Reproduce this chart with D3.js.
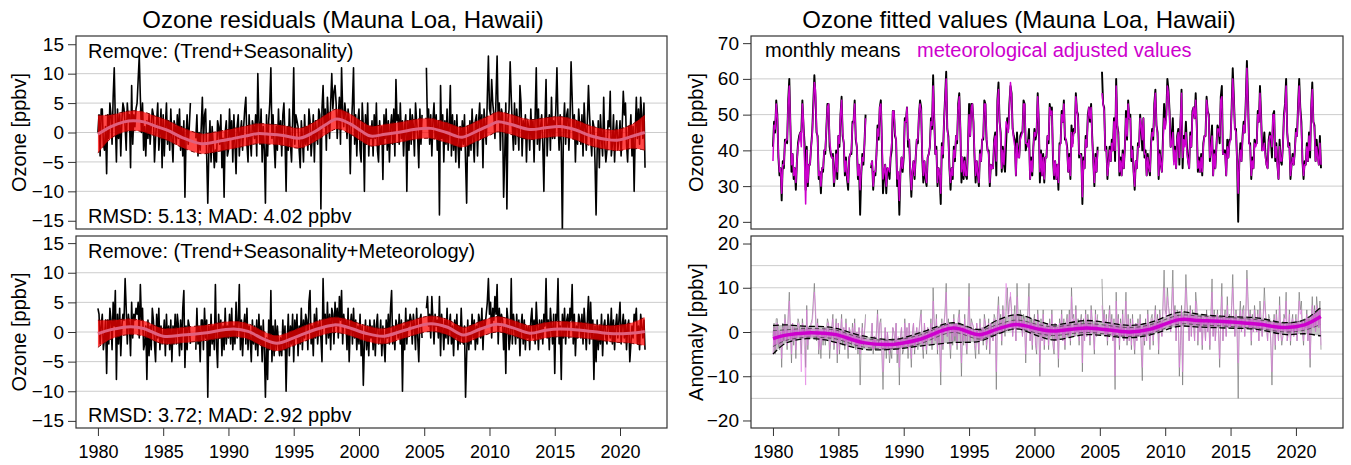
<!DOCTYPE html>
<html>
<head>
<meta charset="utf-8">
<script src="https://cdn.jsdelivr.net/npm/d3@7"></script>
<style>
  body { margin: 0; background: #fff; }
  text { font-family: "Liberation Sans", Arial, sans-serif; }
</style>
</head>
<body>
<svg id="vis" width="1351" height="465"></svg>
<script>
// monthly values Jan 1980 .. Dec 2021, one row per year, null = missing month
const startYear = 1980

// residuals after removing trend + seasonality (ppbv)
const resid1 = [
  [0,3,-4,4,4,-2,-3,1,-7,3,-1,5],
  [3,-2,6,11,2,-5,4,-1,3,-4,2,5],
  [4,1,-3,5,2,3,-6,8,-2,3,1,4],
  [5,9,13,6,0,5,-3,1,-4,2,-1,3],
  [-2,1,4,3,-5,-1,2,5,-3,0,4,-6],
  [3,-4,1,5,-2,2,-3,4,-1,-5,2,1],
  [-2,3,-1,4,-3,1,-4,2,-11,-1,3,-2],
  [1,5,null,null,null,null,-1,3,-4,0,-3,1],
  [6,-2,3,4,-4,-12,-3,2,-5,1,-2,-6],
  [-3,-5,2,1,-2,3,-6,-1,-11,0,2,-4],
  [-3,4,-1,2,-5,3,-2,-7,1,3,-4,0],
  [2,-3,1,4,6,-2,-5,3,-1,-4,2,1],
  [-1,3,-4,10,2,-2,4,-5,1,-3,-12,3],
  [-4,2,5,11,-1,3,-2,-6,1,-3,4,-2],
  [2,-4,3,5,-1,-10,1,-3,4,-2,-5,2],
  [11,-2,3,2,1,-3,-6,2,-1,-5,3,-2],
  [1,-3,4,2,-4,-1,3,-5,2,0,-2,4],
  [3,-13,4,8,1,4,-3,6,2,-1,5,10],
  [4,7,8,5,-1,3,6,-2,11,4,1,5],
  [3,-1,4,2,-7,1,5,11,-2,3,-4,2],
  [4,-3,-5,5,1,-10,3,-2,5,-4,1,-1],
  [2,-4,3,-1,5,-3,-5,2,-2,1,-8,3],
  [-1,4,-3,2,-5,1,3,-2,4,-4,9,2],
  [3,-2,5,-1,2,-4,1,3,-10,2,-3,4],
  [-2,3,1,-4,5,2,-1,-6,4,-2,3,null],
  [null,null,11,1,4,-2,3,-4,2,5,-1,3],
  [-3,2,-14,8,-1,3,-5,2,-2,4,-3,1],
  [8,-4,3,-3,2,-5,3,-2,-6,1,-3,2],
  [-2,3,-5,-12,1,-4,2,-3,4,-1,-5,2],
  [3,-4,2,5,-1,3,-6,4,1,-2,6,13],
  [4,3,9,5,3,-1,6,13,2,5,-3,4],
  [3,-11,-4,5,-13,2,4,12,6,1,-3,5],
  [-2,4,1,-3,8,5,-4,2,-1,3,-5,2],
  [1,-3,4,-1,2,-5,3,11,-2,4,-3,1],
  [3,-2,-10,2,9,-4,1,3,-3,6,-1,2],
  [-1,4,11,2,-3,3,-2,-17,1,5,-2,3],
  [4,-3,2,12,6,-1,3,-5,2,-2,4,1],
  [-2,3,-4,5,1,-3,2,8,3,-1,-4,2],
  [1,-5,-14,-3,2,-6,3,-1,-4,6,-2,-5],
  [-3,2,1,7,-4,-2,3,-5,0,2,-3,-1],
  [2,-4,1,7,3,5,-2,-5,1,-1,3,-4],
  [1,-10,0,6,-1,4,-2,6,3,-1,5,-6]
]

// residuals after removing trend + seasonality + meteorology (ppbv)
const resid2 = [
  [4,3,-2,1,3,-3,-1,2,-7,2,-2,4],
  [2,-3,5,1,7,-8,3,-2,4,-4,1,3],
  [2,9,4,-2,3,1,-4,5,-1,3,2,4],
  [3,5,-1,8,2,4,-3,-2,1,-8,2,-4],
  [1,-3,4,2,-2,-5,3,-1,4,-3,1,-2],
  [-1,2,-4,3,-2,1,-3,2,-5,1,-2,3],
  [-2,3,1,-4,2,-3,4,7,-6,1,-3,2],
  [1,-2,null,null,null,null,-3,4,-2,1,-5,2],
  [2,-3,4,-1,2,-11,1,-4,3,-2,1,-3],
  [8,-2,-6,3,-1,2,-4,1,-3,4,-2,1],
  [-1,3,-2,4,-3,1,-2,5,-1,2,8,-3],
  [2,-4,1,3,-2,4,-3,1,-1,-5,2,-2],
  [1,-3,2,-4,3,-2,1,-5,2,-3,-11,-1],
  [-8,2,-3,7,-5,1,-4,2,-3,1,-2,-4],
  [-1,-4,2,-3,1,-10,-2,3,-4,1,-2,3],
  [-5,2,-1,3,-4,1,-2,4,-3,2,-1,3],
  [2,-3,5,7,-2,1,-4,3,-1,4,-2,1],
  [2,-1,-5,9,1,3,-2,5,-1,3,-3,4],
  [3,-2,5,1,4,-1,6,2,7,-2,3,1],
  [2,-3,4,-5,1,3,-2,4,-1,2,-3,1],
  [-2,3,-4,1,-9,-2,2,-3,1,-4,2,-1],
  [1,-3,2,-4,1,3,-2,-1,2,-4,1,-2],
  [-5,2,-1,3,-2,4,7,-2,1,-3,2,1],
  [-1,3,-2,2,-10,1,-3,4,-2,2,1,3],
  [2,-2,3,1,-3,4,-1,-5,2,3,-1,null],
  [null,null,4,6,1,3,-1,6,2,-2,3,1],
  [2,-1,6,-4,3,1,-3,2,-1,4,-2,1],
  [3,-2,1,-4,2,-1,3,-3,1,-2,4,-1],
  [-2,1,-11,-4,2,-3,1,-2,3,-1,2,-3],
  [1,-2,3,2,-1,4,-3,2,1,3,5,9],
  [3,5,-1,4,2,6,3,8,-2,4,1,3],
  [2,-3,1,-7,4,2,-3,-1,9,-2,3,1],
  [-2,3,-1,2,-4,1,3,-2,2,-3,1,-1],
  [1,-3,2,4,-1,2,-2,5,1,-3,2,-1],
  [2,-2,3,1,9,-1,2,-3,4,1,-2,3],
  [-7,3,2,9,-2,1,-8,3,-1,4,-2,2],
  [3,-1,4,2,8,-2,3,-4,1,-1,3,2],
  [-1,3,-2,4,1,-3,2,6,-2,5,-1,2],
  [-8,1,-5,2,-3,1,-2,3,-4,1,2,-1],
  [-2,3,1,-1,4,-2,2,-3,1,3,-1,2],
  [5,-2,1,3,-1,2,-3,1,2,-5,-2,1],
  [-1,3,2,4,-2,1,-3,3,1,-1,2,-3]
]

// monthly means (ppbv)
const monthlyMeans = [
  [41,48,45,54,50,38,33,35,26,37,35,43],
  [43,42,54,60,47,34,39,32,35,29,37,42],
  [44,45,45,54,47,42,29,41,30,36,36,41],
  [45,53,61,55,45,44,32,34,28,35,34,40],
  [39,46,53,53,41,39,38,39,30,34,40,32],
  [44,41,50,55,44,42,33,38,32,29,38,39],
  [39,48,48,54,43,41,32,36,22,33,39,36],
  [42,50,null,null,null,null,35,37,29,34,33,39],
  [47,43,52,54,42,28,33,36,28,35,34,32],
  [38,40,51,51,44,43,30,33,22,34,38,34],
  [38,49,48,52,41,43,34,27,34,37,32,38],
  [43,42,50,54,52,38,31,37,32,30,38,39],
  [41,49,46,61,49,39,41,30,35,32,25,42],
  [38,48,55,62,46,44,35,29,35,32,41,37],
  [44,42,53,56,46,31,38,32,38,33,32,41],
  [53,44,53,53,48,38,31,37,33,30,40,37],
  [43,43,54,53,43,40,40,30,36,35,35,43],
  [45,33,54,59,48,45,34,41,36,34,42,49],
  [46,53,58,56,46,44,43,33,45,39,38,44],
  [45,45,54,53,40,42,42,46,32,38,33,41],
  [46,43,45,56,48,31,40,33,39,31,38,38],
  [44,42,53,50,52,38,32,37,32,36,29,42],
  [42,51,48,54,43,43,41,34,39,32,47,42],
  [46,45,56,51,50,38,39,39,25,38,35,44],
  [41,50,52,48,53,44,37,30,39,34,41,null],
  [null,null,62,53,52,40,41,32,37,41,37,43],
  [40,49,37,60,47,45,33,38,33,40,35,41],
  [51,43,54,49,50,37,41,34,29,37,35,42],
  [41,50,46,40,49,38,40,33,39,35,33,42],
  [46,43,53,57,47,45,32,40,36,34,44,53],
  [47,50,60,57,51,41,44,49,37,41,35,44],
  [46,36,47,57,35,44,42,48,41,37,35,45],
  [41,51,52,49,56,47,34,38,34,39,33,42],
  [44,44,55,51,50,37,41,47,33,40,35,41],
  [47,46,42,55,58,39,40,40,33,43,38,43],
  [43,52,63,55,46,46,37,20,37,42,37,44],
  [48,45,54,65,55,42,42,32,38,35,43,42],
  [42,51,48,58,50,40,41,45,39,36,35,43],
  [45,43,38,50,51,37,42,36,32,43,37,36],
  [41,50,53,60,45,41,42,32,36,39,36,40],
  [46,44,53,60,52,48,37,32,37,36,42,37],
  [45,38,52,59,48,47,37,43,39,36,44,35]
]

// meteorological adjusted values (ppbv)
const adjustedValues = [
  [37,47,46,53,49,39,34,35,28,36,36,42],
  [43,43,53,58,47,36,39,33,35,31,37,41],
  [43,45,41,53,48,37,25,40,31,36,36,41],
  [44,51,59,57,46,43,33,34,30,35,35,40],
  [40,46,52,53,43,40,38,38,31,34,39,34],
  [44,42,50,54,45,42,34,37,33,31,38,39],
  [40,47,48,53,44,41,33,36,29,34,38,37],
  [42,49,null,null,null,null,36,37,30,34,34,39],
  [46,44,52,53,43,32,34,36,30,35,35,34],
  [39,42,51,51,45,43,32,34,26,34,38,35],
  [39,48,48,52,43,43,35,29,34,37,33,38],
  [43,43,50,53,51,39,33,37,33,31,38,39],
  [41,48,47,58,49,39,40,31,35,33,28,41],
  [39,48,54,60,46,43,35,31,35,33,40,38],
  [44,43,52,55,46,34,38,33,37,33,33,41],
  [50,44,52,53,48,39,33,37,33,31,39,37],
  [43,44,53,53,44,40,39,31,36,35,35,42],
  [44,37,53,57,48,44,35,40,36,41,48,47],
  [45,51,59,55,46,43,41,33,42,38,38,43],
  [44,45,53,53,42,42,41,43,32,37,34,41],
  [45,44,46,55,48,34,39,33,38,32,38,38],
  [44,43,52,50,51,39,33,37,32,36,31,41],
  [42,50,48,53,44,43,40,34,38,33,45,41],
  [45,45,55,51,49,39,39,38,27,37,35,43],
  [41,49,52,49,52,43,37,31,38,34,40,null],
  [null,null,56,53,51,40,40,33,36,40,37,42],
  [40,48,40,58,47,44,34,37,33,39,35,41],
  [49,44,53,49,49,38,40,34,30,37,35,41],
  [41,49,47,43,49,39,39,33,38,35,34,41],
  [45,44,52,56,47,44,33,39,36,34,42,49],
  [46,49,58,56,50,41,42,45,36,40,35,43],
  [45,38,48,56,38,43,41,45,39,37,35,44],
  [41,50,52,49,54,46,35,37,34,38,34,41],
  [44,44,54,51,49,38,40,44,33,39,35,41],
  [46,46,44,54,55,39,39,39,33,41,38,42],
  [43,51,60,54,46,45,37,28,36,40,37,43],
  [47,45,53,63,53,42,41,33,37,35,42,41],
  [42,50,48,56,49,40,40,42,38,36,35,42],
  [44,44,41,50,50,38,41,36,32,41,37,37],
  [41,49,52,58,45,41,41,33,36,38,36,40],
  [45,44,52,58,51,46,37,33,36,36,41,37],
  [44,40,52,57,48,46,37,41,38,36,42,36]
]

// anomalies of monthly means (ppbv)
const anomObs = [
  [-1,2,-5,3,3,-3,-4,0,-8,2,-2,4],
  [1,-4,4,9,0,-7,2,-3,1,-6,0,3],
  [2,-1,-5,3,0,1,-8,6,-4,1,-1,2],
  [3,7,11,4,-2,3,-5,-1,-6,0,-3,1],
  [-3,0,3,2,-6,-2,1,4,-4,-1,3,-7],
  [2,-5,0,4,-3,1,-4,3,-2,-6,1,0],
  [-3,2,-2,3,-4,0,-5,1,-12,-2,2,-3],
  [0,4,null,null,null,null,-2,2,-5,-1,-4,0],
  [5,-3,2,3,-5,-13,-4,1,-6,0,-3,-7],
  [-4,-6,1,0,-3,2,-7,-2,-12,-1,1,-5],
  [-4,3,-2,1,-6,2,-3,-8,0,2,-5,-1],
  [1,-4,0,3,5,-3,-6,2,-2,-5,1,0],
  [-1,3,-4,10,2,-2,4,-5,1,-3,-12,3],
  [-4,2,5,11,-1,3,-2,-6,1,-3,4,-2],
  [2,-4,3,5,-1,-10,1,-3,4,-2,-5,2],
  [11,-2,3,2,1,-3,-6,2,-1,-5,3,-2],
  [1,-3,4,2,-4,-1,3,-5,2,0,-2,4],
  [3,-13,4,8,1,4,-3,6,2,-1,5,10],
  [4,7,8,5,-1,3,6,-2,11,4,1,5],
  [3,-1,4,2,-7,1,5,11,-2,3,-4,2],
  [4,-3,-5,5,1,-10,3,-2,5,-4,1,-1],
  [2,-4,3,-1,5,-3,-5,2,-2,1,-8,3],
  [0,5,-2,3,-4,2,4,-1,5,-3,10,3],
  [4,-1,6,0,3,-3,2,4,-9,3,-2,5],
  [-1,4,2,-3,6,3,0,-5,5,-1,4,null],
  [null,null,12,2,5,-1,4,-3,3,6,0,4],
  [-2,3,-13,9,0,4,-4,3,-1,5,-2,2],
  [9,-3,4,-2,3,-4,4,-1,-5,2,-2,3],
  [-1,4,-4,-11,2,-3,3,-2,5,0,-4,3],
  [4,-3,3,6,0,4,-5,5,2,-1,7,14],
  [5,4,10,6,4,0,7,14,3,6,-2,5],
  [4,-10,-3,6,-12,3,5,13,7,2,-2,6],
  [-1,5,2,-2,9,6,-3,3,0,4,-4,3],
  [2,-2,5,0,3,-4,4,12,-1,5,-2,2],
  [5,0,-8,4,11,-2,3,5,-1,8,1,4],
  [1,6,13,4,-1,5,0,-15,3,7,0,5],
  [6,-1,4,14,8,1,5,-3,4,0,6,3],
  [0,5,-2,7,3,-1,4,10,5,1,-2,4],
  [3,-3,-12,-1,4,-4,5,1,-2,8,0,-3],
  [-1,4,3,9,-2,0,5,-3,2,4,-1,1],
  [4,-2,3,9,5,7,0,-3,3,1,5,-2],
  [3,-8,2,8,1,6,0,8,5,1,7,-4]
]

// anomalies of meteorological adjusted values (ppbv)
const anomAdj = [
  [-5,1,-4,2,2,-2,-3,0,-6,1,-1,3],
  [1,-3,3,7,0,-5,2,-2,1,-4,0,2],
  [1,-1,-9,2,1,-4,-12,5,-3,1,-1,2],
  [2,5,9,6,-1,2,-4,-1,-4,0,-2,1],
  [-2,0,2,2,-4,-1,1,3,-3,-1,2,-5],
  [2,-4,0,3,-2,1,-3,2,-1,-4,1,0],
  [-2,1,-2,2,-3,0,-4,1,-5,-1,1,-2],
  [0,3,null,null,null,null,-1,2,-4,-1,-3,0],
  [4,-2,2,2,-4,-9,-3,1,-4,0,-2,-5],
  [-3,-4,1,0,-2,2,-5,-1,-8,-1,1,-4],
  [-3,2,-2,1,-4,2,-2,-6,0,2,-4,-1],
  [1,-3,0,2,4,-2,-4,2,-1,-4,1,0],
  [-1,2,-3,7,2,-2,3,-4,1,-2,-9,2],
  [-3,2,4,9,-1,2,-2,-4,1,-2,3,-1],
  [2,-3,2,4,-1,-7,1,-2,3,-2,-4,2],
  [8,-2,2,2,1,-2,-4,2,-1,-4,2,-2],
  [1,-2,3,2,-3,-1,2,-4,2,0,-2,3],
  [2,-9,3,6,1,3,-2,5,2,6,11,8],
  [3,5,9,4,-1,2,4,-2,8,3,1,4],
  [2,-1,3,2,-5,1,4,8,-2,2,-3,2],
  [3,-2,-4,4,1,-7,2,-2,4,-3,1,-1],
  [2,-3,2,-1,4,-2,-4,2,-2,1,-6,2],
  [0,4,-2,2,-3,2,3,-1,4,-2,8,2],
  [3,-1,5,0,2,-2,2,3,-7,2,-2,4],
  [-1,3,2,-2,5,2,0,-4,4,-1,3,null],
  [null,null,6,2,4,-1,3,-2,2,5,0,3],
  [-2,2,-10,7,0,3,-3,2,-1,4,-2,2],
  [7,-2,3,-2,2,-3,3,-1,-4,2,-2,2],
  [-1,3,-3,-8,2,-2,2,-2,4,0,-3,2],
  [3,-2,2,5,0,3,-4,4,2,-1,5,10],
  [4,3,8,5,3,0,5,10,2,5,-2,4],
  [3,-8,-2,5,-9,2,4,10,5,2,-2,5],
  [-1,4,2,-2,7,5,-2,2,0,3,-3,2],
  [2,-2,4,0,2,-3,3,9,-1,4,-2,2],
  [4,0,-6,3,8,-2,2,4,-1,6,1,3],
  [1,5,10,3,-1,4,0,-7,2,5,0,4],
  [5,-1,3,12,6,1,4,-2,3,0,5,2],
  [0,4,-2,5,2,-1,3,7,4,1,-2,3],
  [2,-2,-9,-1,3,-3,4,1,-2,6,0,-2],
  [-1,3,2,7,-2,0,4,-2,2,3,-1,1],
  [3,-2,2,7,4,5,0,-2,2,1,4,-2],
  [2,-6,2,6,1,5,0,6,4,1,5,-3]
]

// smoothed residual trend, top left: knot years, centre, half width of band
const yrs1 = [1980.0,1981.0,1982.0,1982.7,1983.5,1984.5,1985.3,1986.5,1987.9,1989.0,
  1990.4,1991.5,1992.2,1993.2,1994.2,1995.5,1996.5,1997.5,1998.3,1999.3,
  2000.2,2000.9,2002.0,2003.2,2004.5,2005.5,2006.7,2007.9,2009.0,2010.0,
  2010.6,2011.6,2013.1,2014.3,2015.4,2016.5,2017.8,2019.0,2019.8,2021.0,2021.9]
const mid1 = [-0.3,1.0,1.8,2.0,1.8,1.0,0.4,-0.9,-1.9,-1.6,
  -1.0,-0.5,-0.2,-0.3,-0.5,-0.95,0.0,1.4,2.3,1.5,
  0.2,-0.6,-0.3,0.1,0.6,0.7,0.0,-0.8,0.2,1.2,
  1.8,1.4,0.5,0.8,1.0,0.5,-0.6,-1.2,-1.3,-0.6,0.0]
const err1 = [3.2,2.0,1.7,1.7,1.7,1.7,1.7,1.7,1.7,1.7,
  1.7,1.7,1.7,1.7,1.7,1.7,1.7,1.7,1.7,1.7,
  1.7,1.7,1.7,1.7,1.7,1.7,1.7,1.7,1.7,1.7,
  1.7,1.7,1.7,1.7,1.7,1.7,1.7,1.7,1.8,2.1,3.0]

// smoothed residual trend, bottom left
const yrs2 = [1980.0,1981.0,1982.5,1983.5,1985.0,1986.5,1988.0,1990.4,1991.5,1992.7,
  1993.7,1995.0,1996.5,1998.1,1999.0,2000.5,2001.9,2003.5,2005.5,2006.8,
  2008.0,2009.3,2010.6,2011.8,2013.1,2014.3,2015.4,2017.0,2018.5,2019.5,2020.8,2021.9]
const mid2 = [-0.3,0.4,0.9,0.6,-0.7,-0.5,-0.2,0.5,0.1,-1.2,
  -1.9,-1.0,0.3,1.2,0.9,-0.2,-0.7,0.3,1.4,0.8,
  -0.5,0.5,1.3,0.7,-0.2,0.3,0.5,0.3,-0.1,-0.3,-0.2,0.1]
const err2 = [2.3,1.6,1.3,1.3,1.3,1.3,1.3,1.3,1.3,1.3,
  1.3,1.3,1.3,1.3,1.3,1.3,1.3,1.3,1.3,1.3,
  1.3,1.3,1.3,1.3,1.3,1.3,1.3,1.3,1.3,1.4,1.7,2.4]

// anomaly trends, bottom right: adjusted trend centre, observed trend band bounds
const yrs3 = [1980.0,1981.0,1982.55,1984.0,1984.85,1986.9,1989.2,1991.2,1993.76,1995.8,
  1997.1,1998.6,2000.4,2001.4,2004.0,2007.3,2008.8,2011.1,2012.6,2014.7,
  2017.0,2019.25,2020.65,2021.9]
const adjTrend = [-1.5,-0.7,-0.2,-0.3,-0.6,-2.4,-2.8,-1.7,0.9,-0.6,
  0.6,1.7,0.6,0.2,0.9,0.0,0.6,2.8,2.6,2.3,
  1.8,1.0,1.6,3.5]
const adjErr = [1.8,1.2,1.0,1.0,1.0,1.0,1.0,1.0,1.0,1.0,
  1.0,1.0,1.0,1.0,1.0,1.0,1.0,1.0,1.0,1.0,
  1.0,1.0,1.2,1.8]
const obsLow = [-5.0,-2.5,-1.5,-1.8,-2.4,-3.9,-3.9,-3.2,-2.4,-2.1,
  -0.6,0.7,-1.0,-1.8,-0.6,-1.3,-0.7,1.3,1.1,0.9,
  0.6,-0.6,-0.4,-0.9]
const obsHigh = [1.5,1.6,1.3,1.2,0.8,-0.9,-1.7,-0.2,2.1,0.6,
  2.6,3.9,2.4,1.6,2.6,1.5,2.1,4.5,4.0,3.5,
  3.2,2.1,2.8,5.6]

const xTicks = [1980,1985,1990,1995,2000,2005,2010,2015,2020]

const svg = d3.select("#vis")
const font = "'Liberation Sans', Arial, sans-serif"
const magenta = "#cd00cd"

// scales
const xLeft = d3.scaleLinear().domain([1978.32, 2023.6]).range([76, 667])
const xRight = d3.scaleLinear().domain([1978.32, 2023.6]).range([751, 1343])
const yTL = d3.scaleLinear().domain([-16.4, 16.4]).range([229, 36])
const yBL = d3.scaleLinear().domain([-16.2, 16.2]).range([428, 236])
const yTR = d3.scaleLinear().domain([18, 72]).range([229, 36])
const yBR = d3.scaleLinear().domain([-21.7, 21.7]).range([428, 236])

const toMonthly = rows => rows.flat().map((v, i) => ({ t: startYear + i / 12, v }))
const line = (x, y) => d3.line().defined(d => d.v != null).x(d => x(d.t)).y(d => y(d.v))
const smooth = (x, y, key) => d3.line().curve(d3.curveCatmullRom).x(d => x(d.t)).y(d => y(d[key]))
const band = (x, y, lo, hi) => d3.area().curve(d3.curveCatmullRom)
  .x(d => x(d.t)).y0(d => y(d[lo])).y1(d => y(d[hi]))

let clipCount = 0
function panel(x, y, grid, yTicks, yTitle, titleX, showX) {
  const [x0, x1] = x.range()
  const [yb, yt] = y.range()
  const g = svg.append("g")
  const id = "clip" + clipCount++
  g.append("clipPath").attr("id", id).append("rect")
    .attr("x", x0).attr("y", yt).attr("width", x1 - x0).attr("height", yb - yt)

  // grid lines
  g.append("g").selectAll("line").data(grid).join("line")
    .attr("x1", x0).attr("x2", x1)
    .attr("y1", d => y(d)).attr("y2", d => y(d))
    .attr("stroke", "#cccccc").attr("stroke-width", 1)

  // y axis
  const ya = g.append("g").attr("transform", `translate(${x0},0)`)
    .call(d3.axisLeft(y).tickValues(yTicks).tickSize(8).tickPadding(4))
  ya.select(".domain").remove()
  ya.attr("font-size", 19).attr("font-family", font)
  ya.selectAll("line").attr("stroke", "#333")
  ya.selectAll("text").attr("fill", "#000")

  // x axis on the lower panels only
  if (showX) {
    const xa = g.append("g").attr("transform", `translate(0,${yb})`)
      .call(d3.axisBottom(x).tickValues(xTicks).tickSize(8).tickPadding(9).tickFormat(d3.format("d")))
    xa.select(".domain").remove()
    xa.attr("font-size", 18).attr("font-family", font)
    xa.selectAll("line").attr("stroke", "#333")
    xa.selectAll("text").attr("fill", "#000")
  }

  g.append("text")
    .attr("transform", `translate(${titleX},${(yb + yt) / 2}) rotate(-90)`)
    .attr("text-anchor", "middle").attr("font-size", 20).text(yTitle)

  const plot = g.append("g").attr("clip-path", `url(#${id})`)
  const frame = () => g.append("rect")
    .attr("x", x0).attr("y", yt).attr("width", x1 - x0).attr("height", yb - yt)
    .attr("fill", "none").attr("stroke", "#333").attr("stroke-width", 1.2)
  return { g, plot, frame }
}

// residual panel with a red smoothed band
function residualPanel(p, x, y, resid, yrs, mid, err) {
  p.plot.append("path").datum(toMonthly(resid))
    .attr("d", line(x, y)).attr("fill", "none")
    .attr("stroke", "#000").attr("stroke-width", 1.6).attr("stroke-linejoin", "round")
  const knots = yrs.map((t, i) => ({ t, mid: mid[i], lo: mid[i] - err[i], hi: mid[i] + err[i] }))
  p.plot.append("path").datum(knots).attr("d", band(x, y, "lo", "hi"))
    .attr("fill", "#ff0000").attr("fill-opacity", 0.72)
  ;["lo", "hi"].forEach(k => p.plot.append("path").datum(knots)
    .attr("d", smooth(x, y, k)).attr("fill", "none")
    .attr("stroke", "#7a0000").attr("stroke-width", 1).attr("stroke-dasharray", "4,3"))
  p.plot.append("path").datum(knots).attr("d", smooth(x, y, "mid"))
    .attr("fill", "none").attr("stroke", "#e0607e").attr("stroke-width", 3)
}

// top left
const tl = panel(xLeft, yTL, [-10, -5, 0, 5, 10], [-15, -10, -5, 0, 5, 10, 15], "Ozone [ppbv]", 26, false)
residualPanel(tl, xLeft, yTL, resid1, yrs1, mid1, err1)
tl.frame()
tl.g.append("text").attr("x", 88).attr("y", 58).attr("font-size", 20).text("Remove: (Trend+Seasonality)")
tl.g.append("text").attr("x", 88).attr("y", 223).attr("font-size", 20).text("RMSD: 5.13; MAD: 4.02 ppbv")

// bottom left
const bl = panel(xLeft, yBL, [-10, -5, 0, 5, 10], [-15, -10, -5, 0, 5, 10, 15], "Ozone [ppbv]", 26, true)
residualPanel(bl, xLeft, yBL, resid2, yrs2, mid2, err2)
bl.frame()
bl.g.append("text").attr("x", 88).attr("y", 258).attr("font-size", 20).text("Remove: (Trend+Seasonality+Meteorology)")
bl.g.append("text").attr("x", 88).attr("y", 422).attr("font-size", 20).text("RMSD: 3.72; MAD: 2.92 ppbv")

// top right
const tr = panel(xRight, yTR, [30, 40, 50, 60], [20, 30, 40, 50, 60, 70], "Ozone [ppbv]", 703, false)
tr.plot.append("path").datum(toMonthly(monthlyMeans)).attr("d", line(xRight, yTR))
  .attr("fill", "none").attr("stroke", "#000").attr("stroke-width", 1.9).attr("stroke-linejoin", "round")
tr.plot.append("path").datum(toMonthly(adjustedValues)).attr("d", line(xRight, yTR))
  .attr("fill", "none").attr("stroke", magenta).attr("stroke-width", 1.5).attr("stroke-linejoin", "round")
tr.frame()
tr.g.append("text").attr("x", 765).attr("y", 57).attr("font-size", 20).text("monthly means")
tr.g.append("text").attr("x", 917).attr("y", 57).attr("font-size", 20).attr("fill", magenta).text("meteorological adjusted values")

// bottom right
const br = panel(xRight, yBR, [-15, -10, -5, 0, 5, 10, 15], [-20, -10, 0, 10, 20], "Anomaly [ppbv]", 703, true)
const knots3 = yrs3.map((t, i) => ({
  t, mid: adjTrend[i], lo: obsLow[i], hi: obsHigh[i],
  mlo: adjTrend[i] - adjErr[i], mhi: adjTrend[i] + adjErr[i]
}))
br.plot.append("path").datum(knots3).attr("d", band(xRight, yBR, "lo", "hi"))
  .attr("fill", "#c4c4c4")
br.plot.append("path").datum(toMonthly(anomObs)).attr("d", line(xRight, yBR))
  .attr("fill", "none").attr("stroke", "#6a6a6a").attr("stroke-width", 0.6)
br.plot.append("path").datum(toMonthly(anomAdj)).attr("d", line(xRight, yBR))
  .attr("fill", "none").attr("stroke", "#e27ae2").attr("stroke-width", 0.6)
br.plot.append("path").datum(knots3).attr("d", band(xRight, yBR, "mlo", "mhi"))
  .attr("fill", "#dd44dd").attr("fill-opacity", 0.35)
;["lo", "hi"].forEach(k => br.plot.append("path").datum(knots3)
  .attr("d", smooth(xRight, yBR, k)).attr("fill", "none")
  .attr("stroke", "#000").attr("stroke-width", 1.3).attr("stroke-dasharray", "6,3"))
;["mlo", "mhi"].forEach(k => br.plot.append("path").datum(knots3)
  .attr("d", smooth(xRight, yBR, k)).attr("fill", "none")
  .attr("stroke", "#444").attr("stroke-width", 0.8).attr("stroke-dasharray", "4,3"))
br.plot.append("path").datum(knots3).attr("d", smooth(xRight, yBR, "mid"))
  .attr("fill", "none").attr("stroke", magenta).attr("stroke-width", 3.5)
br.frame()

// titles
svg.append("text").attr("x", 343).attr("y", 28).attr("text-anchor", "middle")
  .attr("font-size", 24).text("Ozone residuals (Mauna Loa, Hawaii)")
svg.append("text").attr("x", 1019).attr("y", 28).attr("text-anchor", "middle")
  .attr("font-size", 24).text("Ozone fitted values (Mauna Loa, Hawaii)")
</script>
</body>
</html>
